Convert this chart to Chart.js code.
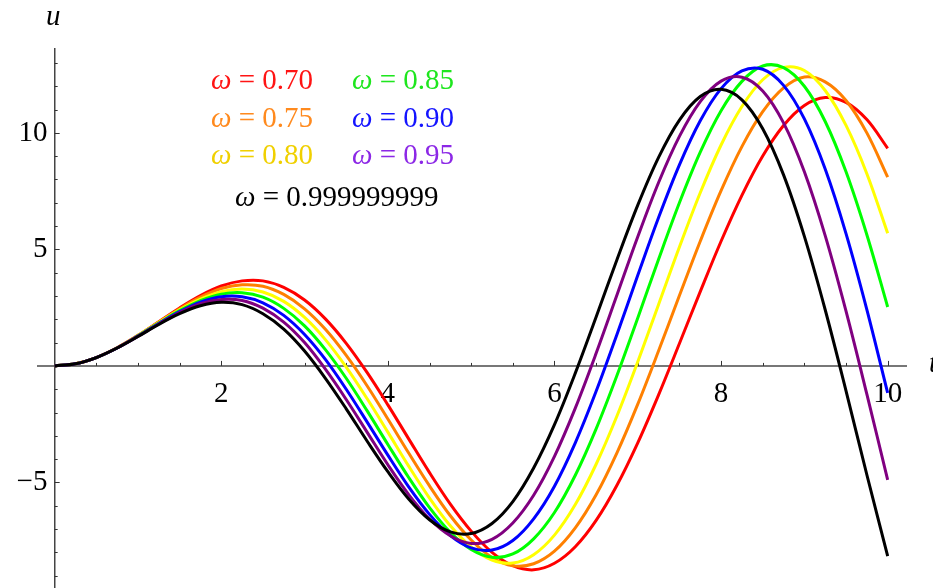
<!DOCTYPE html>
<html>
<head>
<meta charset="utf-8">
<script src="https://cdn.jsdelivr.net/npm/chart.js@4.4.1/dist/chart.umd.min.js"></script>
<style>
html,body{margin:0;padding:0;background:#fff;}
#wrap{width:933px;height:588px;position:relative;}
</style>
</head>
<body>
<div id="wrap"><canvas id="uChart" width="933" height="588"></canvas></div>
<script>
// t grid shared by every curve
const tValues = [0,0.25,0.5,0.75,1,1.25,1.5,1.75,2,2.25,2.5,2.75,3,3.25,3.5,3.75,4,4.25,4.5,4.75,5,
                 5.25,5.5,5.75,6,6.25,6.5,6.75,7,7.25,7.5,7.75,8,8.25,8.5,8.75,9,9.25,9.5,9.75,10];

// u(t), one array per omega
const uRed    = [0,0.09,0.36,0.78,1.31,1.90,2.49,3.02,3.43,3.65,3.65,3.37,2.83,2.02,0.97,-0.28,-1.67,-3.13,-4.58,-5.93,-7.09,
                 -8.00,-8.57,-8.75,-8.47,-7.76,-6.63,-5.12,-3.30,-1.24,0.96,3.19,5.35,7.32,9.01,10.32,11.18,11.52,11.31,10.57,9.34];
const uOrange = [0,0.09,0.36,0.78,1.31,1.88,2.45,2.95,3.32,3.48,3.42,3.07,2.45,1.57,0.45,-0.85,-2.28,-3.74,-5.15,-6.43,-7.47,
                 -8.22,-8.58,-8.49,-7.95,-6.95,-5.53,-3.73,-1.64,0.65,3.02,5.35,7.52,9.41,10.91,11.93,12.40,12.19,11.39,10.00,8.10];
const uYellow = [0,0.09,0.36,0.78,1.30,1.86,2.41,2.87,3.19,3.30,3.17,2.77,2.08,1.13,-0.05,-1.40,-2.84,-4.30,-5.67,-6.86,-7.77,
                 -8.33,-8.46,-8.10,-7.26,-5.95,-4.22,-2.15,0.18,2.64,5.10,7.43,9.48,11.13,12.28,12.81,12.68,11.82,10.32,8.25,5.69];
const uGreen  = [0,0.09,0.36,0.77,1.29,1.84,2.37,2.80,3.08,3.14,2.95,2.47,1.72,0.70,-0.53,-1.92,-3.37,-4.79,-6.08,-7.14,-7.88,
                 -8.21,-8.07,-7.42,-6.29,-4.69,-2.70,-0.41,2.06,4.58,7.00,9.17,10.95,12.21,12.87,12.80,12.00,10.49,8.33,5.63,2.53];
const uBlue   = [0,0.09,0.36,0.77,1.28,1.82,2.33,2.74,2.97,2.97,2.71,2.17,1.35,0.28,-1.00,-2.40,-3.83,-5.19,-6.37,-7.28,-7.81,
                 -7.90,-7.49,-6.56,-5.16,-3.30,-1.09,1.35,3.89,6.37,8.63,10.52,11.90,12.66,12.73,12.04,10.60,8.45,5.68,2.42,-1.16];
const uPurple = [0,0.09,0.36,0.77,1.27,1.80,2.29,2.67,2.85,2.81,2.48,1.88,1.00,-0.14,-1.44,-2.84,-4.24,-5.52,-6.57,-7.29,-7.62,
                 -7.44,-6.74,-5.55,-3.88,-1.81,0.54,3.04,5.54,7.87,9.85,11.34,12.22,12.39,11.80,10.43,8.33,5.59,2.35,-1.21,-4.89];
const uBlack  = [0,0.09,0.36,0.77,1.26,1.78,2.24,2.58,2.73,2.63,2.24,1.58,0.64,-0.53,-1.84,-3.22,-4.54,-5.71,-6.60,-7.12,-7.19,
                 -6.76,-5.82,-4.38,-2.52,-0.31,2.10,4.56,6.90,8.95,10.55,11.56,11.87,11.42,10.18,8.20,5.56,2.41,-1.07,-4.67,-8.16];

const omegaLabels = ['0.70','0.75','0.80','0.85','0.90','0.95','0.999999999'];
const curveColors = ['#ff0000','#ff8000','#ffff00','#00ff00','#0000ff','#800080','#000000'];
const textColors  = ['#ff1414','#ff8a1e','#f0d000','#1ee61e','#1414ff','#8c28e6','#000000'];
const seriesU = [uRed,uOrange,uYellow,uGreen,uBlue,uPurple,uBlack];

const xTickLabels = [2,4,6,8,10];
const yTickLabels = [-5,5,10];

const serif = '"Liberation Serif","Times New Roman",serif';

const datasets = seriesU.map((u,i)=>({
    label:'ω = '+omegaLabels[i],
    data:tValues.map((t,j)=>({x:t,y:u[j]})),
    borderColor:curveColors[i],
    borderWidth:3,
    pointRadius:0,
    fill:false,
    tension:0.35,
    order:seriesU.length-i   // black drawn last (on top)
}));

// small inward ticks, axis letters and the omega key
const extras = {
    id:'extras',
    beforeDatasetsDraw(chart){
        const {ctx, scales:{x,y}} = chart;
        const x0 = x.getPixelForValue(0), y0 = y.getPixelForValue(0);
        ctx.save();
        ctx.strokeStyle='#333';
        ctx.lineWidth=1;
        x.ticks.forEach(tk=>{
            if(tk.value===0) return;
            const px=Math.round(x.getPixelForValue(tk.value))+0.5;
            const len=xTickLabels.includes(tk.value)?5:3;
            ctx.beginPath();ctx.moveTo(px,y0);ctx.lineTo(px,y0-len);ctx.stroke();
        });
        y.ticks.forEach(tk=>{
            if(tk.value===0) return;
            const py=Math.round(y.getPixelForValue(tk.value))+0.5;
            const len=yTickLabels.includes(tk.value)?5:3;
            ctx.beginPath();ctx.moveTo(x0,py);ctx.lineTo(x0+len,py);ctx.stroke();
        });
        ctx.restore();
    },
    afterDraw(chart){
        const ctx = chart.ctx;
        ctx.save();
        ctx.textBaseline='middle';
        ctx.textAlign='left';
        // axis letters
        ctx.fillStyle='#000';
        ctx.font='italic 29px '+serif;
        ctx.fillText('u',46,17);
        ctx.fillText('t',929,364);
        // key: two columns of three, then the last one centred below
        const spots=[[211,81],[211,119],[211,156],[352,81],[352,119],[352,156],[235,198]];
        omegaLabels.forEach((lab,i)=>{
            const [lx,ly]=spots[i];
            ctx.fillStyle=textColors[i];
            ctx.font='italic 29px '+serif;
            ctx.fillText('ω',lx,ly);
            const w=ctx.measureText('ω').width;
            ctx.font='29px '+serif;
            ctx.fillText(' = '+lab,lx+w,ly);
        });
        ctx.restore();
    }
};

new Chart(document.getElementById('uChart'),{
    type:'line',
    data:{datasets},
    options:{
        responsive:false,
        animation:false,
        layout:{padding:{left:38,right:27,top:49,bottom:0}},
        plugins:{legend:{display:false},tooltip:{enabled:false}},
        scales:{
            x:{
                type:'linear',
                position:{y:0},
                min:-0.2,max:10.22,
                afterFit(s){s.height=0;s.paddingLeft=0;s.paddingRight=0;},
                grid:{drawOnChartArea:false,drawTicks:false},
                border:{color:'#777',width:2},
                ticks:{
                    stepSize:0.5,includeBounds:false,autoSkip:false,maxRotation:0,
                    padding:11,color:'#000',font:{family:serif,size:29},
                    callback:v=>xTickLabels.includes(v)?String(v):''
                }
            },
            y:{
                type:'linear',
                position:{x:0},
                min:-9.53,max:13.6,
                afterFit(s){s.width=0;s.paddingTop=0;s.paddingBottom=0;},
                grid:{drawOnChartArea:false,drawTicks:false},
                border:{color:'#444',width:1.5},
                ticks:{
                    stepSize:1,includeBounds:false,autoSkip:false,
                    padding:15,color:'#000',font:{family:serif,size:29},
                    // trailing space keeps the numbers clear of the axis
                    callback:v=>yTickLabels.includes(v)?(v<0?'\u2212'+Math.abs(v):String(v))+' ':''
                }
            }
        }
    },
    plugins:[extras]
});
</script>
</body>
</html>
